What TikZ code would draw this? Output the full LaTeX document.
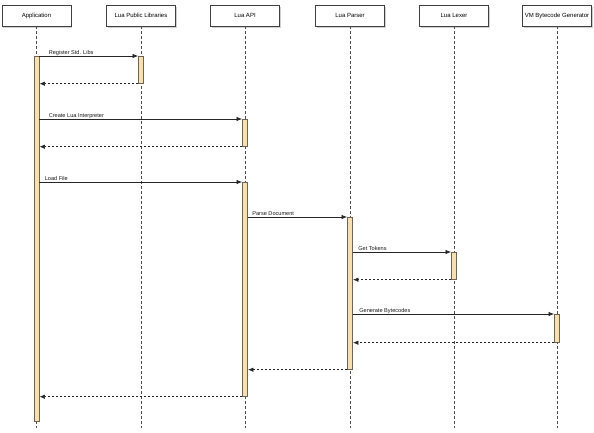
\documentclass[tikz,border=0pt]{standalone}
\usepackage{fontspec}
\setmainfont{Liberation Sans}
\usetikzlibrary{arrows.meta,positioning,shadows}
\definecolor{actfill}{RGB}{248,223,176}
\definecolor{actedge}{RGB}{110,100,85}

\tikzset{
  head/.style={draw=black!75, fill=white, line width=0.6pt, minimum width=69pt, minimum height=21pt,
    inner sep=1pt, font=\fontsize{6}{7}\selectfont,
    drop shadow={shadow xshift=1.2pt, shadow yshift=-1.6pt, fill=black!35}},
  life/.style={black!70, line width=0.7pt, dash pattern=on 3pt off 2pt},
  act/.style={draw=actedge, fill=actfill, line width=0.7pt, minimum width=5.2pt, inner sep=0pt, anchor=north,
    drop shadow={shadow xshift=0.8pt, shadow yshift=-0.8pt, fill=black!25}},
  msg/.style={-{Latex[length=5.5pt,width=4.5pt]}, black!85, line width=0.7pt},
  ret/.style={msg, dash pattern=on 2.5pt off 1.5pt},
  lbl/.style={font=\fontsize{5.6}{6.5}\selectfont, text=black!90, anchor=base west, inner sep=0pt, yshift=1.3pt}
}

\begin{document}
\begin{tikzpicture}[x=1pt,y=-1pt]
\useasboundingbox (0,0) rectangle (594,432);
\coordinate (bottom) at (0,428);

% participants
\node[head] (app)    at (36.5,15.5) {Application};
\node[head] (lib)    at (141,15.5)  {Lua Public Libraries};
\node[head] (api)    at (245,15.5)  {Lua API};
\node[head] (parser) at (350,15.5)  {Lua Parser};
\node[head] (lexer)  at (454,15.5)  {Lua Lexer};
\node[head] (vm)     at (557,15.5)  {VM Bytecode Generator};

% lifelines
\foreach \p in {app,lib,api,parser,lexer,vm}
  \draw[life] (\p.south) -- (\p.south |- bottom);

% activations
\node[act, minimum height=365pt] (appact)   at (36.5,56) {};
\node[act, minimum height=27pt]  (libact)   at (141,56) {};
\node[act, minimum height=27pt]  (apiact)   at (245,119) {};
\node[act, minimum height=214pt] (apiload)  at (245,182) {};
\node[act, minimum height=152pt] (parseact) at (350,217) {};
\node[act, minimum height=27pt]  (lexact)   at (454,252) {};
\node[act, minimum height=28pt]  (vmact)    at (557,314) {};

% calls
\draw[msg] (appact.east |- libact.north) -- node[lbl, pos=0, xshift=9pt] {Register Std. Libs} (libact.north west);
\draw[ret] (libact.south west) -- (appact.east |- libact.south);

\draw[msg] (appact.east |- apiact.north) -- node[lbl, pos=0, xshift=9pt] {Create Lua Interpreter} (apiact.north west);
\draw[ret] (apiact.south west) -- (appact.east |- apiact.south);

\draw[msg] (appact.east |- apiload.north) -- node[lbl, pos=0, xshift=5pt] {Load File} (apiload.north west);
\draw[msg] (apiload.east |- parseact.north) -- node[lbl, pos=0, xshift=4pt] {Parse Document} (parseact.north west);
\draw[msg] (parseact.east |- lexact.north) -- node[lbl, pos=0, xshift=5pt] {Get Tokens} (lexact.north west);
\draw[ret] (lexact.south west) -- (parseact.east |- lexact.south);
\draw[msg] (parseact.east |- vmact.north) -- node[lbl, pos=0, xshift=6pt] {Generate Bytecodes} (vmact.north west);
\draw[ret] (vmact.south west) -- (parseact.east |- vmact.south);
\draw[ret] (parseact.south west) -- (apiload.east |- parseact.south);
\draw[ret] (apiload.south west) -- (appact.east |- apiload.south);
\end{tikzpicture}
\end{document}
